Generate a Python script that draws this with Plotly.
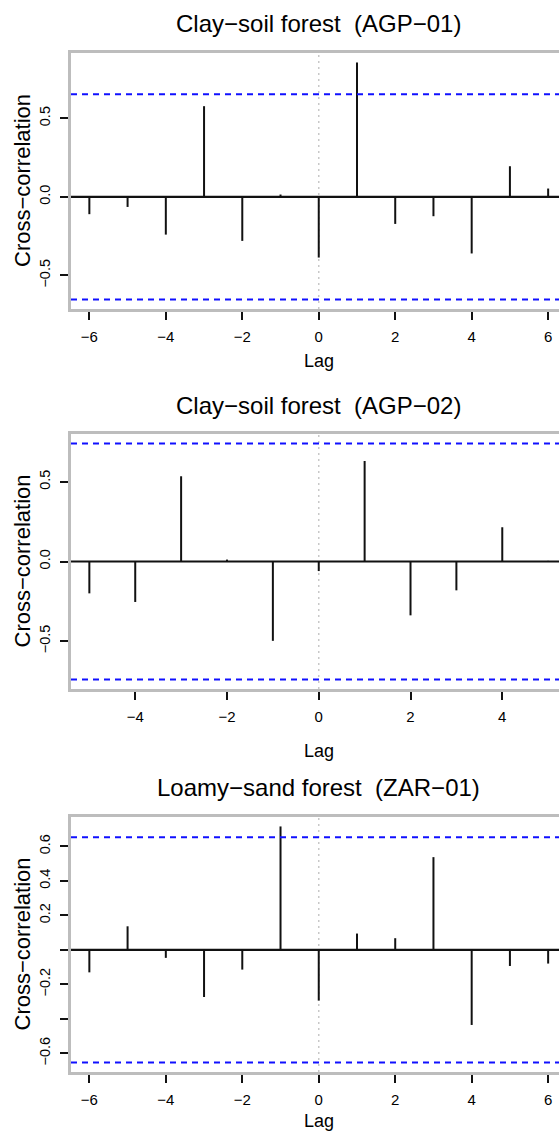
import plotly.graph_objects as go

# ---------------- data ----------------
titles = ["Clay\u2212soil forest  (AGP\u221201)",
          "Clay\u2212soil forest  (AGP\u221202)",
          "Loamy\u2212sand forest  (ZAR\u221201)"]

lags_1 = [-6, -5, -4, -3, -2, -1, 0, 1, 2, 3, 4, 5, 6]
ccf_1 = [-0.110, -0.064, -0.240, 0.577, -0.280, 0.015, -0.386, 0.855,
         -0.172, -0.123, -0.360, 0.195, 0.053]

lags_2 = [-5, -4, -3, -2, -1, 0, 1, 2, 3, 4, 5]
ccf_2 = [-0.200, -0.254, 0.535, 0.012, -0.498, -0.060, 0.631, -0.338,
         -0.181, 0.215, 0.004]

lags_3 = [-6, -5, -4, -3, -2, -1, 0, 1, 2, 3, 4, 5, 6]
ccf_3 = [-0.130, 0.137, -0.046, -0.273, -0.114, 0.716, -0.294, 0.095,
         0.068, 0.538, -0.435, -0.093, -0.079]

ci_levels = [0.653, 0.741, 0.653]

xtick_vals_1 = [-6, -4, -2, 0, 2, 4, 6]
xtick_vals_2 = [-4, -2, 0, 2, 4]
xtick_vals_3 = [-6, -4, -2, 0, 2, 4, 6]

ytick_vals_1 = [-0.5, 0.0, 0.5]
ytick_text_1 = ["\u22120.5", "0.0", "0.5"]
ytick_vals_2 = [-0.5, 0.0, 0.5]
ytick_text_2 = ["\u22120.5", "0.0", "0.5"]
ytick_vals_3 = [-0.6, -0.4, -0.2, 0.0, 0.2, 0.4, 0.6]
ytick_text_3 = ["\u22120.6", "", "\u22120.2", "", "0.2", "0.4", "0.6"]

xlabel = "Lag"
ylabel = "Cross\u2212correlation"

# ---------------- layout geometry ----------------
W, H = 559, 1132
ML = 71
PW = W - ML
R_PLOT_RIGHT = 566.5          # right edge of the (cropped) plot region
VIS_FRAC = (W - ML) / (R_PLOT_RIGHT - ML)

box_px = [(53, 309), (434, 689), (817, 1072)]
title_py = [23, 405, 787]
lag_py = [361, 751, 1121]

FONT = "Liberation Sans, Arial, Helvetica, sans-serif"
BOXC = "#bdbdbd"

panels = [
    (lags_1, ccf_1, xtick_vals_1, ytick_vals_1, ytick_text_1),
    (lags_2, ccf_2, xtick_vals_2, ytick_vals_2, ytick_text_2),
    (lags_3, ccf_3, xtick_vals_3, ytick_vals_3, ytick_text_3),
]

fig = go.Figure()
shapes = []
annotations = []
layout_axes = {}

for i, (lags, vals, xt, yt, ytt) in enumerate(panels):
    n = i + 1
    xa = "x" if n == 1 else f"x{n}"
    ya = "y" if n == 1 else f"y{n}"
    xkey = "xaxis" if n == 1 else f"xaxis{n}"
    ykey = "yaxis" if n == 1 else f"yaxis{n}"
    ci = ci_levels[i]

    # stems
    xs, ys = [], []
    for l, v in zip(lags, vals):
        xs += [l, l, None]
        ys += [0, v, None]
    fig.add_trace(go.Scatter(x=xs, y=ys, mode="lines",
                             line=dict(color="#111111", width=2),
                             xaxis=xa, yaxis=ya, showlegend=False,
                             hoverinfo="skip"))

    # ranges (R style 4% expansion)
    xmin, xmax = min(lags), max(lags)
    xspan = xmax - xmin
    xlo = xmin - 0.04 * xspan
    xfull = xspan * 1.08
    xhi = xlo + xfull * VIS_FRAC
    ylo0 = min(min(vals), -ci)
    yhi0 = max(max(vals), ci)
    ypad = 0.04 * (yhi0 - ylo0)
    ylo, yhi = ylo0 - ypad, yhi0 + ypad

    top, bot = box_px[i]
    dom = [1 - bot / H, 1 - top / H]

    layout_axes[xkey] = dict(
        domain=[0, 1], range=[xlo, xhi], anchor=ya,
        showgrid=False, zeroline=False,
        showline=True, linecolor=BOXC, linewidth=2.5, mirror=True,
        ticks="outside", ticklen=8, tickwidth=1.6, tickcolor="#111111",
        tickvals=xt, ticktext=[str(v).replace("-", "\u2212") for v in xt],
        tickfont=dict(family=FONT, size=15, color="black"),
        ticklabelstandoff=4,
    )
    layout_axes[ykey] = dict(
        domain=dom, range=[ylo, yhi], anchor=xa,
        showgrid=False, zeroline=False,
        showline=True, linecolor=BOXC, linewidth=2.5, mirror=False,
        ticks="outside", ticklen=8, tickwidth=1.6, tickcolor="#111111",
        tickvals=yt, ticktext=ytt, tickangle=-90,
        tickfont=dict(family=FONT, size=14.5, color="black"),
        ticklabelstandoff=4,
    )

    # dotted vertical at lag 0 (under the stems)
    shapes.append(dict(type="line", xref=xa, yref=f"{ya} domain",
                       x0=0, x1=0, y0=0, y1=1, layer="below",
                       line=dict(color="#c8c8c8", width=1.5, dash="2px,4px")))
    # zero line
    shapes.append(dict(type="line", xref=f"{xa} domain", yref=ya,
                       x0=0, x1=1, y0=0, y1=0, layer="below",
                       line=dict(color="#111111", width=2.2)))
    # confidence bounds
    for s in (1, -1):
        shapes.append(dict(type="line", xref=f"{xa} domain", yref=ya,
                           x0=0, x1=1, y0=s * ci, y1=s * ci,
                           line=dict(color="#1010ff", width=2,
                                     dash="6px,5px")))

    # title
    annotations.append(dict(text=titles[i], xref=xa, x=0,
                            yref="paper", y=1 - title_py[i] / H,
                            xanchor="center", yanchor="middle",
                            showarrow=False,
                            font=dict(family=FONT, size=24, color="black")))
    # x label
    annotations.append(dict(text=xlabel, xref=xa, x=0,
                            yref="paper", y=1 - lag_py[i] / H,
                            xanchor="center", yanchor="middle",
                            showarrow=False,
                            font=dict(family=FONT, size=18, color="black")))
    # y label
    annotations.append(dict(text=ylabel, xref="paper", x=(22 - ML) / PW,
                            yref="paper", y=1 - (top + bot) / 2 / H,
                            xanchor="center", yanchor="middle",
                            textangle=-90, showarrow=False,
                            font=dict(family=FONT, size=22, color="black")))

fig.update_layout(
    width=W, height=H,
    margin=dict(l=ML, r=0, t=0, b=0),
    paper_bgcolor="white", plot_bgcolor="white",
    shapes=shapes, annotations=annotations,
    showlegend=False,
    **layout_axes,
)

fig.write_html("out.html")
